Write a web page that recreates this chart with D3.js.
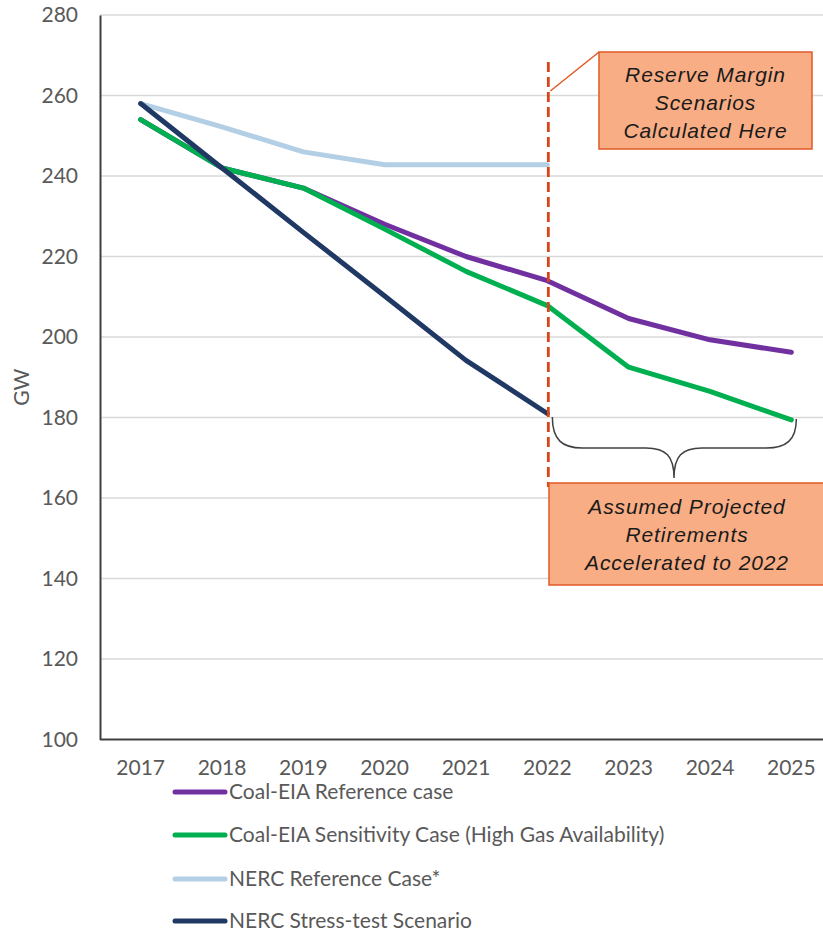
<!DOCTYPE html>
<html>
<head>
<meta charset="utf-8">
<script src="https://cdn.jsdelivr.net/npm/d3@7"></script>
<style>
  html, body { margin: 0; padding: 0; background: #fff; }
  svg { display: block; }
</style>
</head>
<body>
<svg id="chart" width="823" height="934"></svg>
<script>
// Coal capacity outlook, GW
const years = ["2017", "2018", "2019", "2020", "2021", "2022", "2023", "2024", "2025"];
const yTicks = [100, 120, 140, 160, 180, 200, 220, 240, 260, 280];

const eiaReference   = [254, 242, 237, 228, 220, 214, 204.6, 199.3, 196.2];
const eiaSensitivity = [254, 242, 237, 226.8, 216.3, 207.8, 192.5, 186.5, 179.4];
const nercReference  = [258, 252.2, 246, 242.8, 242.8, 242.8];
const nercStress     = [258, 242, 226, 210.2, 194.2, 181];

const seriesNames = [
  "Coal-EIA Reference case",
  "Coal-EIA Sensitivity Case (High Gas Availability)",
  "NERC Reference Case*",
  "NERC Stress-test Scenario"
];
const seriesColors = ["#7030a0", "#00b050", "#b3cfe6", "#1f3864"];
const seriesValues = [eiaReference, eiaSensitivity, nercReference, nercStress];
// paint order: light blue underneath, then purple, green, navy on top
const drawOrder = [2, 0, 1, 3];

const markerYear = "2022";
const calloutTop = ["Reserve Margin", "Scenarios", "Calculated Here"];
const calloutBottom = ["Assumed Projected", "Retirements", "Accelerated to 2022"];

const svg = d3.select("#chart");
const W = 823;
const plot = { left: 100, right: 832, top: 15, bottom: 739.5 };

const x = d3.scaleBand().domain(years).range([plot.left, plot.right]).padding(0);
const xc = d => x(d) + x.bandwidth() / 2;
const y = d3.scaleLinear().domain([100, 280]).range([plot.bottom, plot.top]);

const textColor = "#595959";
const tickFont = "Lato, 'Open Sans', sans-serif";
const tickSize = "21px";

// horizontal gridlines
svg.append("g")
  .selectAll("line")
  .data(yTicks.filter(t => t !== 100))
  .join("line")
  .attr("x1", plot.left).attr("x2", W)
  .attr("y1", d => y(d)).attr("y2", d => y(d))
  .attr("stroke", "#d9d9d9").attr("stroke-width", 1.5);

// y axis
const yAxis = svg.append("g")
  .attr("transform", `translate(${plot.left},0)`)
  .call(d3.axisLeft(y).tickValues(yTicks).tickSize(0).tickPadding(22));
yAxis.select(".domain").attr("stroke", "#404040").attr("stroke-width", 2);
yAxis.selectAll("text")
  .attr("fill", textColor)
  .style("font-family", tickFont)
  .style("font-size", tickSize);

// x axis
const xAxis = svg.append("g")
  .attr("transform", `translate(0,${plot.bottom})`)
  .call(d3.axisBottom(x).tickSize(0).tickPadding(21));
xAxis.select(".domain").attr("stroke", "#404040").attr("stroke-width", 2)
  .attr("d", `M${plot.left},0H${W}`);
xAxis.selectAll("text")
  .attr("fill", textColor)
  .style("font-family", tickFont)
  .style("font-size", tickSize);

// y axis title
svg.append("text")
  .attr("transform", `translate(29,${(plot.top + plot.bottom) / 2 + 10}) rotate(-90)`)
  .attr("text-anchor", "middle")
  .attr("fill", textColor)
  .style("font-family", tickFont)
  .style("font-size", tickSize)
  .text("GW");

// series lines
const line = d3.line()
  .x((d, i) => xc(years[i]))
  .y(d => y(d));

svg.append("g")
  .selectAll("path")
  .data(drawOrder)
  .join("path")
  .attr("d", i => line(seriesValues[i]))
  .attr("fill", "none")
  .attr("stroke", i => seriesColors[i])
  .attr("stroke-width", 5)
  .attr("stroke-linecap", "round")
  .attr("stroke-linejoin", "round");

// vertical dashed marker at 2022
const mx = xc(markerYear) + 1;
svg.append("line")
  .attr("x1", mx).attr("x2", mx)
  .attr("y1", 62).attr("y2", 487)
  .attr("stroke", "#d9441a")
  .attr("stroke-width", 2.8)
  .attr("stroke-dasharray", "10,5");

// callout styles
const boxFill = "#f8ad85";
const boxStroke = "#e05a28";
const calloutFont = "'Liberation Sans', Arial, sans-serif";

function callout(bx, by, bw, bh, lines, firstBaseline) {
  const g = svg.append("g");
  g.append("rect")
    .attr("x", bx).attr("y", by).attr("width", bw).attr("height", bh)
    .attr("fill", boxFill).attr("stroke", boxStroke).attr("stroke-width", 1.5);
  g.selectAll("text")
    .data(lines)
    .join("text")
    .attr("x", bx + bw / 2)
    .attr("y", (d, i) => firstBaseline + i * 28)
    .attr("text-anchor", "middle")
    .attr("fill", "#1a1a1a")
    .style("font-family", calloutFont)
    .style("font-style", "italic")
    .style("font-size", "21px")
    .style("letter-spacing", "0.9px")
    .text(d => d);
  return g;
}

// leader from the top callout to the marker
svg.append("line")
  .attr("x1", 599).attr("y1", 52)
  .attr("x2", mx + 2).attr("y2", 91)
  .attr("stroke", boxStroke).attr("stroke-width", 1.5);

callout(599, 52, 213, 97, calloutTop, 82);
callout(549, 483, 276, 102, calloutBottom, 514);

// curly brace spanning 2022 to 2025 below the lines
const bl = mx + 4, br = xc("2025") + 5, tipX = 674;
const braceTop = 417, braceMid = 448, braceTip = 478;
const brace = d3.path();
brace.moveTo(bl, braceTop);
brace.bezierCurveTo(bl, braceMid - 8, bl + 10, braceMid, bl + 30, braceMid);
brace.lineTo(tipX - 28, braceMid);
brace.bezierCurveTo(tipX - 8, braceMid, tipX, braceMid + 8, tipX, braceTip);
brace.bezierCurveTo(tipX, braceMid + 8, tipX + 8, braceMid, tipX + 28, braceMid);
brace.lineTo(br - 30, braceMid);
brace.bezierCurveTo(br - 10, braceMid, br, braceMid - 8, br, braceTop + 2);
svg.append("path")
  .attr("d", brace.toString())
  .attr("fill", "none")
  .attr("stroke", "#404040")
  .attr("stroke-width", 1.5);

// legend
const legend = svg.append("g");
const legendRows = [792, 835, 879, 921];
seriesNames.forEach((name, i) => {
  legend.append("line")
    .attr("x1", 175).attr("x2", 225)
    .attr("y1", legendRows[i]).attr("y2", legendRows[i])
    .attr("stroke", seriesColors[i])
    .attr("stroke-width", 5)
    .attr("stroke-linecap", "round");
  legend.append("text")
    .attr("x", 229)
    .attr("y", legendRows[i] + 7)
    .attr("fill", textColor)
    .style("font-family", tickFont)
    .style("font-size", tickSize)
    .text(name);
});
</script>
</body>
</html>
